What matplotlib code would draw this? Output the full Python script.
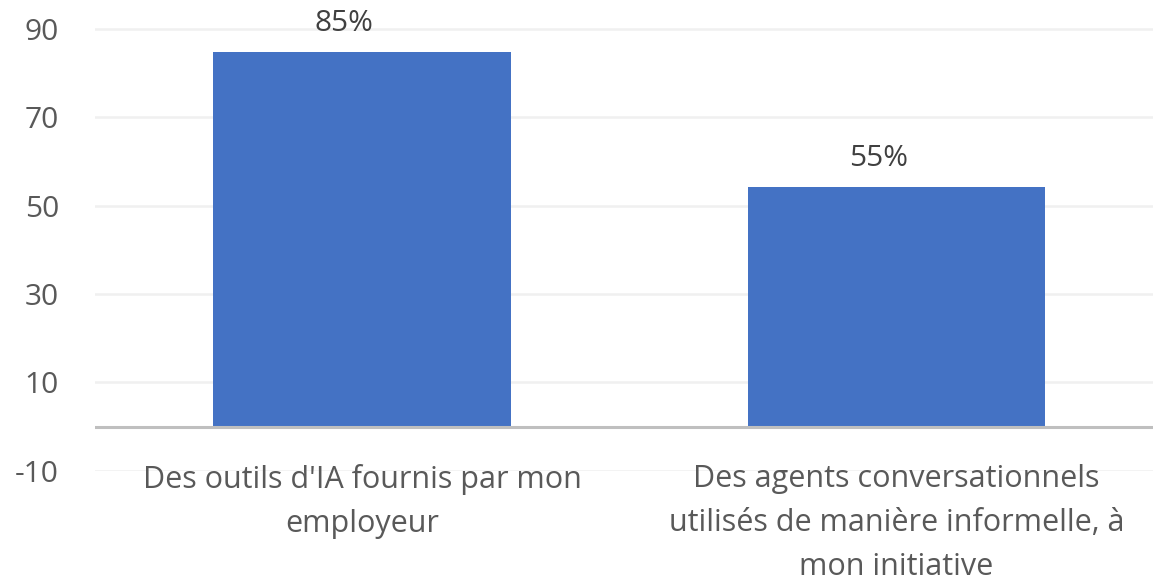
import matplotlib
matplotlib.use("Agg")
import matplotlib.pyplot as plt

categories = ["Des outils d'IA fournis par mon\nemployeur",
              "Des agents conversationnels\nutilisés de manière informelle, à\nmon initiative"]
values = [84.8, 54.3]
value_labels = ["85%", "55%"]
yticks = [90, 70, 50, 30, 10, -10]

plt.rcParams['font.family'] = ['Open Sans', 'DejaVu Sans']
text_color = "#595959"

fig = plt.figure(figsize=(11.53, 5.80), dpi=100)
W, H = 1153, 580
left, right, top, bottom = 95, 1163.5, 0, 470.7
ax = fig.add_axes([left / W, 1 - bottom / H, (right - left) / W, (bottom - top) / H])

x = list(range(len(categories)))
bars = ax.bar(x, values, width=0.557, color="#4472C4", zorder=3)
ax.set_xlim(-0.5, len(categories) - 0.5)
ax.set_ylim(-10, 96.6)

ax.set_yticks(yticks)
ax.set_yticklabels([str(t) for t in yticks])
for t in yticks:
    ax.axhline(t, color="#F0F0F0", lw=1.8, zorder=1)
ax.axhline(0, color="#BFBFBF", lw=2.2, zorder=4)

for rect, lab in zip(bars, value_labels):
    ax.annotate(lab, (rect.get_x() + rect.get_width() / 2, rect.get_height()),
                xytext=(-13, 10), textcoords="offset points",
                ha="center", va="bottom", fontsize=21.5, color="#404040")

ax.set_xticks(x)
ax.set_xticklabels(categories, fontsize=22, color=text_color, linespacing=1.62)
ax.tick_params(axis="x", length=0, pad=-5)
ax.tick_params(axis="y", length=0, pad=26, labelsize=21.5, labelcolor=text_color)
for s in ax.spines.values():
    s.set_visible(False)

fig.savefig("out.png", dpi=100)
